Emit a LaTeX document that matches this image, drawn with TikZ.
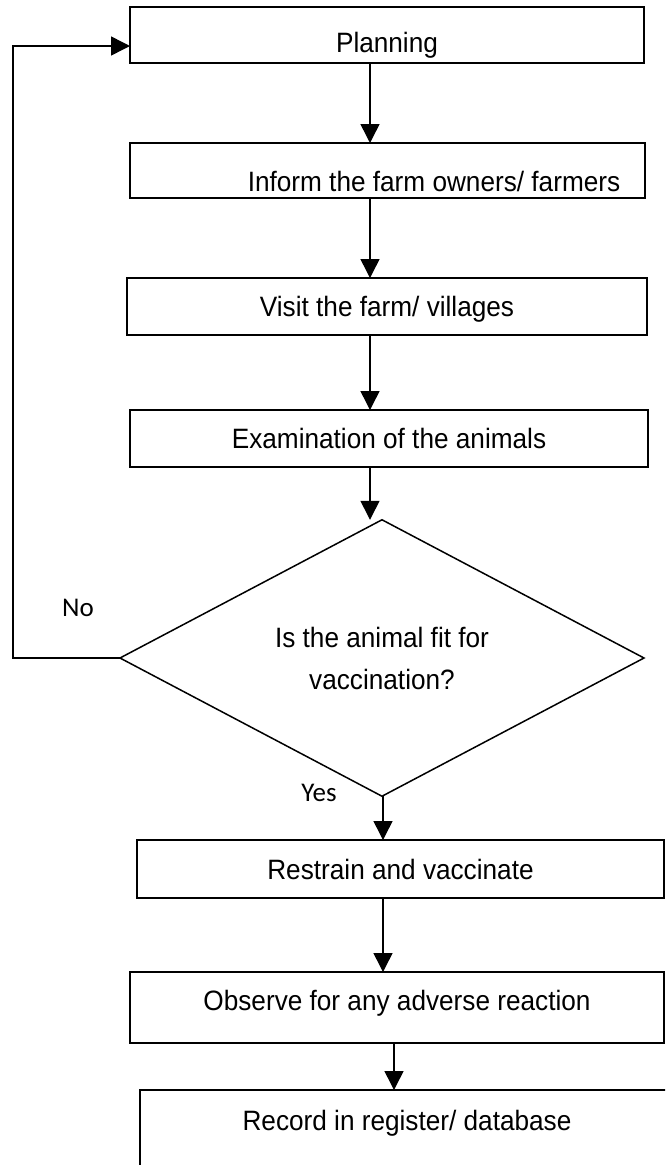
\documentclass[tikz,border=0pt]{standalone}
\usepackage{fontspec}
\usetikzlibrary{arrows.meta,shapes.geometric}
\newfontfamily\boxfont{Liberation Sans}[FakeStretch=0.935]
\newfontfamily\lblfont{Carlito}
\newcommand{\shiftdown}[2]{\raisebox{-#1}[\height][\depth]{#2}}
\tikzset{
  box/.style={draw, line width=1.5pt, rectangle, inner sep=0pt, outer sep=0pt, anchor=north west,
    font=\boxfont\fontsize{28}{34}\selectfont},
  decision/.style={draw, line width=1.5pt, diamond, inner sep=0pt, outer sep=0pt, align=center,
    minimum width=524pt, minimum height=192pt, font=\boxfont\fontsize{28}{42}\selectfont},
  arr/.style={line width=1.5pt, -{Triangle[length=19pt,width=19pt]}},
  lbl/.style={inner sep=0pt, font=\lblfont\fontsize{27}{32}\selectfont},
  txt/.style={inner sep=0pt, font=\boxfont\fontsize{28}{34}\selectfont}
}
\begin{document}
\begin{tikzpicture}[x=1pt,y=-1pt]
\useasboundingbox (0,0) rectangle (665,1165);
\clip (0,0) rectangle (665,1165);
\fill[white] (0,0) rectangle (665,1165);
% column guides
\coordinate (c1) at (370,0);
\coordinate (c2) at (383,0);
\coordinate (c5) at (394,0);
% boxes
\node[box, minimum width=514pt, minimum height=56pt] (plan) at (130,7) {\shiftdown{10pt}{Planning}};
\node[box, minimum width=515pt, minimum height=55pt] (inform) at (130,143) {\hspace*{93pt}\shiftdown{11pt}{Inform the farm owners/ farmers}};
\node[box, minimum width=520pt, minimum height=57pt] (visit) at (127,278) {\shiftdown{3pt}{Visit the farm/ villages}};
\node[box, minimum width=518pt, minimum height=57pt] (exam) at (130,410) {Examination of the animals};
\node[decision] (dia) at (382,658) {Is the animal fit for\\vaccination?};
\node[box, minimum width=527pt, minimum height=58pt] (restrain) at (137,840) {Restrain and vaccinate};
\node[box, minimum width=534pt, minimum height=71pt] (observe) at (130,972) {\shiftdown{-4pt}{Observe for any adverse reaction}};
\node[box, minimum width=600pt, minimum height=100pt] (record) at (140,1090) {};
\node[txt] (recordtext) at (407,1123) {Record in register/ database};
% labels
\node[lbl] (no) at (78,608) {No};
\node[lbl] (yes) at (319,793) {Yes};
% connectors
\draw[arr] (plan.south -| c1) -- (inform.north -| c1);
\draw[arr] (inform.south -| c1) -- (visit.north -| c1);
\draw[arr] (visit.south -| c1) -- (exam.north -| c1);
\draw[arr] (exam.south -| c1) -- (dia.north -| c1);
\draw[arr] (dia.south -| c2) -- (restrain.north -| c2);
\draw[arr] (restrain.south -| c2) -- (observe.north -| c2);
\draw[arr] (observe.south -| c5) -- (record.north -| c5);
\coordinate (fbbot) at (13,658);
\coordinate (fbtop) at (13,46);
\draw[arr] (dia.west) -- (fbbot) -- (fbtop) -- (fbtop -| plan.west);
\end{tikzpicture}
\end{document}
